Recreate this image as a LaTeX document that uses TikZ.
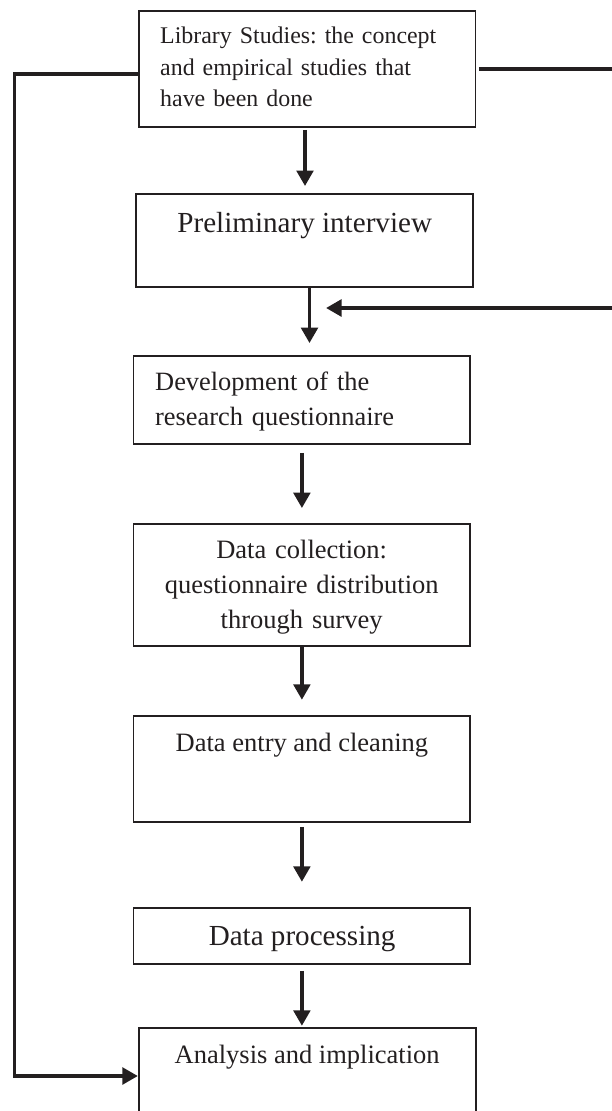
\documentclass[tikz,border=0pt]{standalone}
\usepackage{fontspec}
\setmainfont{Liberation Serif}
\frenchspacing
\usetikzlibrary{arrows.meta,calc}
\definecolor{ink}{HTML}{231F20}
\begin{document}
\begin{tikzpicture}[x=1pt,y=-1pt,
  box/.style={draw=ink, line width=1.8pt, rectangle, inner sep=0pt, minimum width=336.8pt},
  conn/.style={draw=ink, line width=3.8pt, -{Triangle[length=15.5pt,width=16.5pt]}},
  txt/.style={text=ink, inner sep=0pt}]
\useasboundingbox (0,0) rectangle (612,1111);
\clip (0,0) rectangle (612,1111);
% boxes
\node[box, minimum height=116pt]  (b1) at (307,68.7) {};
\node[box, minimum height=92.7pt] (b2) at (304.6,240.3) {};
\node[box, minimum height=88.3pt] (b3) at (301.9,399.85) {};
\node[box, minimum height=122pt]  (b4) at (301.9,584.7) {};
\node[box, minimum height=106.3pt] (b5) at (301.9,768.85) {};
\node[box, minimum height=56.3pt] (b6) at (301.9,935.85) {};
\node[box, minimum height=96.6pt] (b7) at (307.2,1076) {};
% texts
\node[txt, anchor=base west, text width=310pt, align=left, font=\fontsize{23.9}{31.7}\selectfont] (t1) at (160,43.3)
  {Library Studies: the concept\\and empirical studies that\\have been done};
\node[txt, anchor=base, font=\fontsize{29.1}{35}\selectfont] (t2) at (304.7,232.3) {Preliminary interview};
\node[txt, anchor=base west, text width=310pt, align=left, font=\fontsize{26.4}{35}\selectfont] (t3) at (155,390.7)
  {Development of the\\research questionnaire};
\node[txt, anchor=base, text width=330pt, align=center, font=\fontsize{26.5}{35.3}\selectfont] (t4) at (301.7,558.3)
  {Data collection:\\questionnaire distribution\\through survey};
\node[txt, anchor=base, font=\fontsize{26.5}{32}\selectfont] (t5) at (301.9,751.7) {Data entry and cleaning};
\node[txt, anchor=base, font=\fontsize{29.1}{35}\selectfont] (t6) at (302.1,945) {Data processing};
\node[txt, anchor=base, font=\fontsize{26.5}{32}\selectfont] (t7) at (307.2,1063.3) {Analysis and implication};
% coordinates
\coordinate (L) at (14.4,74);
\coordinate (R) at (640,68.7);
\coordinate (fb) at (326,308);
% main flow
\draw[conn, shorten <=2.3pt, shorten >=7pt] ([xshift=-2pt]b1.south) -- ([xshift=-2pt]b1.south |- b2.north);
\draw[conn, shorten >=11.7pt] ([xshift=4.9pt]b2.south) -- ([xshift=4.9pt]b2.south |- b3.north);
\draw[conn, shorten <=8pt, shorten >=14.7pt] (b3.south) -- (b4.north);
\draw[conn, shorten >=15pt] (b4.south) -- (b5.north);
\draw[conn, shorten <=4pt, shorten >=25pt] (b5.south) -- (b6.north);
\draw[conn, shorten <=6pt, shorten >=1pt] (b6.south) -- (b6.south |- b7.north);
% feedback lines
\draw[conn] ([yshift=-5.3pt]b1.west) -- (L) |- (b7.west);
\draw[conn, shorten <=2.6pt] (b1.east) -- (R) |- (fb);
\end{tikzpicture}
\end{document}
